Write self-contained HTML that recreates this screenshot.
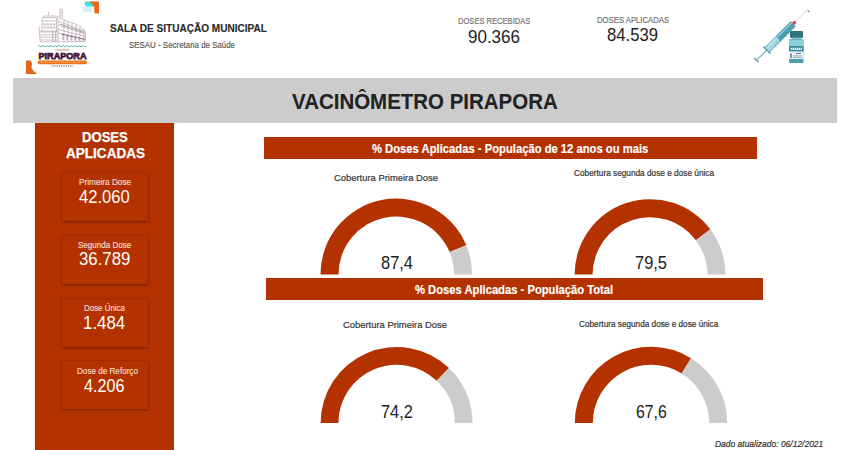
<!DOCTYPE html>
<html><head><meta charset="utf-8">
<style>
*{margin:0;padding:0;box-sizing:border-box}
html,body{width:850px;height:450px;overflow:hidden;background:#fff}
body{position:relative;font-family:"Liberation Sans",sans-serif;}
.a{position:absolute}
.t{position:absolute;white-space:nowrap;line-height:1;transform-origin:0 0}
.card{position:absolute;left:62px;width:86px;height:48px;background:#B43200;box-shadow:0 1px 3px rgba(0,0,0,0.35),0 0 1px rgba(0,0,0,0.25);}
</style></head><body>
<svg class="a" style="left:0;top:0" width="110" height="80" viewBox="0 0 110 80">
<path d="M85,1.6 L94.5,1.6 L94,6.6 L86,6.6 Q84,4 85,1.6Z" fill="#45dede"/>
<polygon points="83,7 92,7 92,12 83,12" fill="#d2f2f3"/>
<polygon points="89.6,1.6 99,1.6 99,13.6 94.5,13.2 94,6" fill="#e8661a"/>
<path d="M26,60.6 L30.5,60.6 Q33,63.5 31.3,67.5 Q32.5,70.8 36.5,73.3 L36.2,73.9 L26,73.9Z" fill="#e06818"/>
<g fill="none" stroke="#9c8494" stroke-width="0.5">
<path d="M60,18.4 L60,9.2 L62.4,9.2 L62.4,18.4 M60,12 L62.4,12 M60,15 L62.4,15"/>
<path d="M48.4,15.5 L48.4,11.6 M42,18.8 L44,16 L56.4,16 L57.5,18.5 M43,17.5 L56,17.5"/>
<path d="M42,19 L42,31.2 M56.5,18 L56.5,31 M42,21 L56.5,21 M42.5,24 L56,24 M42.5,28 L56,28 M45,24 L45,28 M48,24 L48,28 M51,24 L51,28 M54,24 L54,28"/>
<path d="M39.2,26.4 L39.2,33 M40,31 L58,31 M39.2,32 L58,32 M39.5,34.8 L58,34.8 M39.8,37.2 L58,37.2 M40,40 L58,40 M40.4,42 L85.2,41.5 M39.2,33 L40.4,42 M52.8,31 L52.8,42 M55.6,31 L55.6,42"/>
<path d="M57.5,16 L63,19.5 L77.5,24.8 L82.5,28 L85.6,32 L85.2,41.5"/>
<path d="M58,21 L84,31 M58,25 L85,34 M58,29.5 L85.5,36.5 M57.5,33 L85.5,39"/>
<path d="M64,19.8 L64,41.5 M68,21.3 L68,41.5 M72,22.8 L72,41.5 M76,24.3 L76,41.5 M80,26.3 L80,41.5 M84,30 L84,41.5 M58,18 L58,42"/>
</g>
<g fill="none" stroke="#735868" stroke-width="0.6">
<path d="M61,34 L85,39.5 M63,33.6 L63,40 M67,34.5 L67,40.5 M71,35.3 L71,40.5 M75,36.2 L75,40.5 M79,37 L79,40.8 M83,38 L83,40.8 M60,24 L84,32.5"/>
</g>
<path d="M38,46.2 q1,-1.3 2,0 t2,0 t2,0 t2,0 t2,0 t2,0 t2,0 t2,0 t2,0 t2,0 t2,0 t2,0 t2,0 t2,0 t2,0 t2,0 t2,0 t2,0 t2,0 t2,0 t2,0 t2,0 t2,0 t2,0" fill="none" stroke="#3aa8a2" stroke-width="0.8"/>
<rect x="55" y="49.2" width="14.6" height="1.5" fill="#eab5a5"/>
<text x="38.5" y="58.7" font-family="Liberation Sans" font-weight="bold" font-size="9.6" fill="#45173a" stroke="#45173a" stroke-width="0.75" textLength="48" lengthAdjust="spacingAndGlyphs">PIRAPORA</text>
<rect x="37.8" y="60.6" width="49.2" height="3.6" rx="1.8" fill="#e8761e"/>
<line x1="41" y1="62.4" x2="84" y2="62.4" stroke="#f6c08a" stroke-width="1.2" stroke-dasharray="1.2,0.8" opacity="0.7"/>
<line x1="51.8" y1="66" x2="73.2" y2="66" stroke="#9a9a9a" stroke-width="1.6" stroke-dasharray="1.4,0.9"/>
</svg>
<svg class="a" style="left:740px;top:0" width="90" height="75" viewBox="740 0 90 75">
<line x1="795.5" y1="21.5" x2="808" y2="9" stroke="#b5bec4" stroke-width="0.6"/>
<circle cx="808.6" cy="11.2" r="1" fill="#5a9fb0"/>
<polygon points="792,22.8 794.3,20.5 796.5,22.7 794.2,25" fill="#e0404a"/>
<line x1="754.4" y1="58.1" x2="758.6" y2="62.3" stroke="#6b9dab" stroke-width="1.6"/>
<line x1="756.5" y1="60.2" x2="767" y2="50" stroke="#86b9c6" stroke-width="1.4"/>
<line x1="763.6" y1="46.6" x2="770.4" y2="53.4" stroke="#5b97a8" stroke-width="1.6"/>
<polygon points="764.74,47.74 790.74,21.74 795.26,26.26 769.26,52.26" fill="#a6d6e0" stroke="#4a98ac" stroke-width="0.8"/>
<polygon points="776,36.5 790.74,21.74 795.26,26.26 780.5,41" fill="#4f9fb4"/>
<line x1="766.5" y1="48" x2="791.5" y2="23" stroke="#cfeaf0" stroke-width="1"/>
<g stroke="#2f6f80" stroke-width="0.6"><line x1="774.5" y1="45" x2="776.3" y2="46.8"/><line x1="777" y1="42.5" x2="778.8" y2="44.3"/><line x1="779.5" y1="40" x2="781.3" y2="41.8"/><line x1="782" y1="37.5" x2="783.8" y2="39.3"/><line x1="784.5" y1="35" x2="786.3" y2="36.8"/><line x1="787" y1="32.5" x2="788.8" y2="34.3"/></g>
<rect x="790" y="31.1" width="13" height="6.8" rx="1.2" fill="#2f6f7f"/>
<g stroke="#4a8a98" stroke-width="0.5"><line x1="793" y1="32" x2="793" y2="37.5"/><line x1="796.5" y1="32" x2="796.5" y2="37.5"/><line x1="800" y1="32" x2="800" y2="37.5"/></g>
<rect x="791.8" y="37.6" width="9.4" height="1.8" fill="#7fc2cc"/>
<rect x="789" y="39.2" width="14.5" height="23.8" rx="1.2" fill="#4d9db0"/>
<rect x="789" y="40" width="14.5" height="6" fill="#8dcfd9"/>
<rect x="789" y="46" width="14.5" height="5.5" fill="#3b8a9d"/>
<line x1="790.8" y1="48.8" x2="801.8" y2="48.8" stroke="#eef8fa" stroke-width="2.2" stroke-dasharray="1.5,0.5"/>
<rect x="789" y="51.5" width="14.5" height="7.5" fill="#edf5f6"/>
<rect x="796" y="53" width="5" height="0.9" fill="#567"/>
<rect x="793" y="55.5" width="9" height="0.8" fill="#89a"/>
<rect x="793" y="57" width="9" height="0.8" fill="#89a"/>
<rect x="790.4" y="53.5" width="1.2" height="4.5" fill="#456"/>
</svg>
<div class="a" style="left:13px;top:78px;width:824px;height:45px;background:#CCCCCC"></div>
<div class="a" style="left:35px;top:123px;width:139px;height:327px;background:#B43200"></div>
<div class="card" style="top:173px"></div>
<div class="card" style="top:236px"></div>
<div class="card" style="top:299px"></div>
<div class="card" style="top:361px"></div>
<div class="a" style="left:264px;top:137px;width:493px;height:22px;background:#B43200"></div>
<div class="a" style="left:266px;top:278px;width:497px;height:22px;background:#B43200"></div>
<svg class="a" style="left:0;top:0" width="850" height="450" viewBox="0 0 850 450"><path d="M320.50,274.40 A75.8,75.8 0 0 1 466.24,245.17 L449.63,252.11 A57.8,57.8 0 0 0 338.50,274.40Z" fill="#B43200"/><path d="M466.24,245.17 A75.8,75.8 0 0 1 472.10,274.40 L454.10,274.40 A57.8,57.8 0 0 0 449.63,252.11Z" fill="#CCCCCC"/><path d="M574.60,274.60 A75.4,75.4 0 0 1 710.30,229.33 L695.90,240.14 A57.4,57.4 0 0 0 592.60,274.60Z" fill="#B43200"/><path d="M710.30,229.33 A75.4,75.4 0 0 1 725.40,274.60 L707.40,274.60 A57.4,57.4 0 0 0 695.90,240.14Z" fill="#CCCCCC"/><path d="M320.60,423.00 A76,76 0 0 1 448.97,367.93 L436.71,380.83 A58.2,58.2 0 0 0 338.40,423.00Z" fill="#B43200"/><path d="M448.97,367.93 A76,76 0 0 1 472.60,423.00 L454.80,423.00 A58.2,58.2 0 0 0 436.71,380.83Z" fill="#CCCCCC"/><path d="M574.80,423.00 A76.2,76.2 0 0 1 691.02,358.15 L681.57,373.47 A58.2,58.2 0 0 0 592.80,423.00Z" fill="#B43200"/><path d="M691.02,358.15 A76.2,76.2 0 0 1 727.20,423.00 L709.20,423.00 A58.2,58.2 0 0 0 681.57,373.47Z" fill="#CCCCCC"/></svg>
<div class="t" style="left:110.10px;top:22.35px;font-size:11.63px;font-weight:bold;font-style:normal;color:#2b2b2b;transform:scaleX(0.8643);-webkit-text-stroke:0.15px #2b2b2b">SALA DE SITUAÇÃO MUNICIPAL</div>
<div class="t" style="left:129.20px;top:40.43px;font-size:9.88px;font-weight:normal;font-style:normal;color:#555555;transform:scaleX(0.8015);-webkit-text-stroke:0.15px #555555">SESAU - Secretaria de Saúde</div>
<div class="t" style="left:458.00px;top:16.74px;font-size:8.58px;font-weight:normal;font-style:normal;color:#757575;transform:scaleX(0.8817);-webkit-text-stroke:0.2px #757575">DOSES RECEBIDAS</div>
<div class="t" style="left:468.20px;top:29.33px;font-size:17.44px;font-weight:normal;font-style:normal;color:#212121;transform:scaleX(0.9736);">90.366</div>
<div class="t" style="left:596.70px;top:16.14px;font-size:8.58px;font-weight:normal;font-style:normal;color:#757575;transform:scaleX(0.9000);-webkit-text-stroke:0.2px #757575">DOSES APLICADAS</div>
<div class="t" style="left:606.60px;top:26.59px;font-size:17.73px;font-weight:normal;font-style:normal;color:#212121;transform:scaleX(0.9407);">84.539</div>
<div class="t" style="left:291.70px;top:90.62px;font-size:21.95px;font-weight:bold;font-style:normal;color:#222222;transform:scaleX(0.9330);-webkit-text-stroke:0.1px #222222">VACINÔMETRO PIRAPORA</div>
<div class="t" style="left:81.80px;top:130.35px;font-size:14.83px;font-weight:bold;font-style:normal;color:#ffffff;transform:scaleX(0.8827);-webkit-text-stroke:0.25px #ffffff">DOSES</div>
<div class="t" style="left:65.50px;top:146.35px;font-size:14.83px;font-weight:bold;font-style:normal;color:#ffffff;transform:scaleX(0.9140);-webkit-text-stroke:0.25px #ffffff">APLICADAS</div>
<div class="t" style="left:78.90px;top:177.95px;font-size:9.16px;font-weight:normal;font-style:normal;color:#f7dccf;transform:scaleX(0.8983);-webkit-text-stroke:0.15px #f7dccf">Primeira Dose</div>
<div class="t" style="left:78.90px;top:188.27px;font-size:18.46px;font-weight:normal;font-style:normal;color:#ffffff;transform:scaleX(0.8982);">42.060</div>
<div class="t" style="left:78.00px;top:241.32px;font-size:8.72px;font-weight:normal;font-style:normal;color:#f7dccf;transform:scaleX(0.9241);-webkit-text-stroke:0.15px #f7dccf">Segunda Dose</div>
<div class="t" style="left:78.70px;top:249.79px;font-size:18.31px;font-weight:normal;font-style:normal;color:#ffffff;transform:scaleX(0.9179);">36.789</div>
<div class="t" style="left:84.20px;top:304.32px;font-size:8.72px;font-weight:normal;font-style:normal;color:#f7dccf;transform:scaleX(0.9089);-webkit-text-stroke:0.15px #f7dccf">Dose Única</div>
<div class="t" style="left:83.27px;top:313.52px;font-size:18.17px;font-weight:normal;font-style:normal;color:#ffffff;transform:scaleX(0.9295);">1.484</div>
<div class="t" style="left:77.10px;top:366.88px;font-size:8.29px;font-weight:normal;font-style:normal;color:#f7dccf;transform:scaleX(0.9806);-webkit-text-stroke:0.15px #f7dccf">Dose de Reforço</div>
<div class="t" style="left:83.90px;top:378.06px;font-size:17.88px;font-weight:normal;font-style:normal;color:#ffffff;transform:scaleX(0.9067);">4.206</div>
<div class="t" style="left:371.90px;top:143.22px;font-size:12.5px;font-weight:bold;font-style:normal;color:#ffffff;transform:scaleX(0.8993);-webkit-text-stroke:0.15px #ffffff">% Doses Aplicadas - População de 12 anos ou mais</div>
<div class="t" style="left:414.60px;top:284.44px;font-size:12.35px;font-weight:bold;font-style:normal;color:#ffffff;transform:scaleX(0.9087);-webkit-text-stroke:0.15px #ffffff">% Doses Aplicadas - População Total</div>
<div class="t" style="left:333.50px;top:172.73px;font-size:9.88px;font-weight:normal;font-style:normal;color:#333333;transform:scaleX(0.9523);-webkit-text-stroke:0.2px #333333">Cobertura Primeira Dose</div>
<div class="t" style="left:573.50px;top:168.72px;font-size:8.72px;font-weight:normal;font-style:normal;color:#333333;transform:scaleX(0.9473);-webkit-text-stroke:0.2px #333333">Cobertura segunda dose e dose única</div>
<div class="t" style="left:343.20px;top:320.43px;font-size:9.88px;font-weight:normal;font-style:normal;color:#333333;transform:scaleX(0.9514);-webkit-text-stroke:0.2px #333333">Cobertura Primeira Dose</div>
<div class="t" style="left:578.90px;top:319.54px;font-size:8.58px;font-weight:normal;font-style:normal;color:#333333;transform:scaleX(0.9575);-webkit-text-stroke:0.2px #333333">Cobertura segunda dose e dose única</div>
<div class="t" style="left:381.10px;top:253.82px;font-size:18.17px;font-weight:normal;font-style:normal;color:#212121;transform:scaleX(0.9057);">87,4</div>
<div class="t" style="left:635.00px;top:253.82px;font-size:18.17px;font-weight:normal;font-style:normal;color:#212121;transform:scaleX(0.9057);">79,5</div>
<div class="t" style="left:381.10px;top:403.69px;font-size:17.73px;font-weight:normal;font-style:normal;color:#212121;transform:scaleX(0.9235);">74,2</div>
<div class="t" style="left:636.10px;top:403.27px;font-size:18.46px;font-weight:normal;font-style:normal;color:#212121;transform:scaleX(0.8556);">67,6</div>
<div class="t" style="left:715.10px;top:440.42px;font-size:8.72px;font-weight:normal;font-style:italic;color:#333333;transform:scaleX(0.9712);-webkit-text-stroke:0.2px #333333">Dado atualizado: 06/12/2021</div>
</body></html>
